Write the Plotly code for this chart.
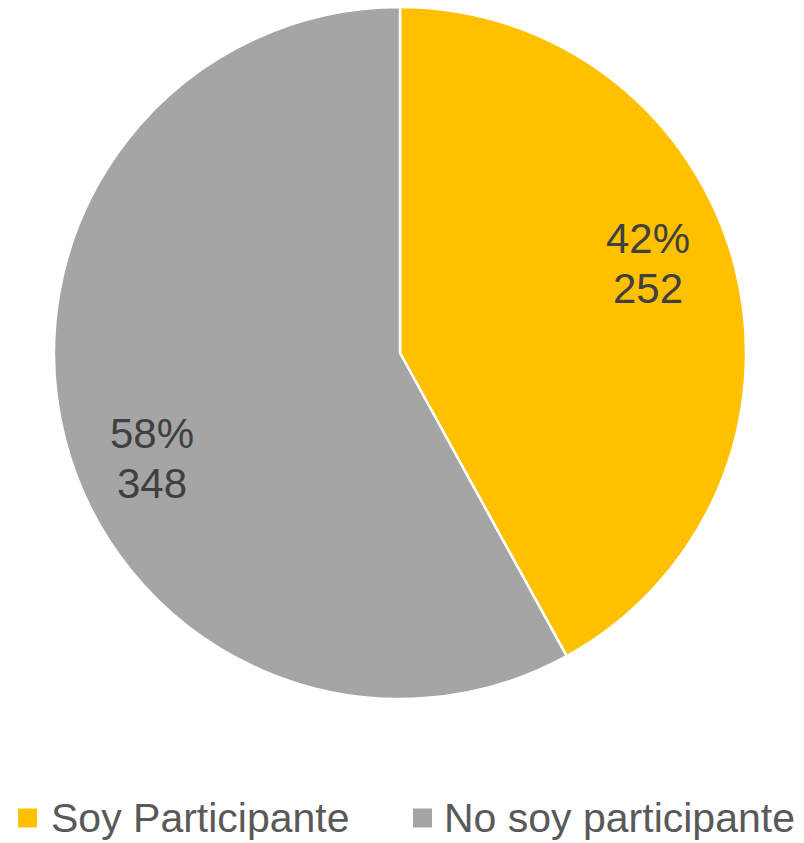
import math
import plotly.graph_objects as go

labels = ["Soy Participante", "No soy participante"]
values = [252, 348]
colors = ["#FFC000", "#A5A5A5"]

W, H = 804, 843
# pie domain (pixels)
px0, px1, py0, py1 = 54, 746, 7, 699
cx, cy = (px0 + px1) / 2, (py0 + py1) / 2
R = min(px1 - px0, py1 - py0) / 2

fig = go.Figure(go.Pie(
    labels=labels,
    values=values,
    marker=dict(colors=colors, line=dict(color="white", width=2.5)),
    sort=False,
    direction="clockwise",
    rotation=0,
    textinfo="none",
    hoverinfo="label+value+percent",
    domain=dict(x=[px0 / W, px1 / W], y=[1 - py1 / H, 1 - py0 / H]),
    showlegend=False,
))

# data labels placed from the slice angles
total = sum(values)
cum = 0
annotations = []
lab_font = dict(size=42, color="#404040", family="Liberation Sans, Arial, sans-serif")
for v in values:
    theta = 2 * math.pi * (cum + v / 2) / total - math.radians(7)
    cum += v
    r = 0.77 * R
    x = cx + r * math.sin(theta)
    y = cy - r * math.cos(theta) + 8
    for txt, shift in ((f"{round(100 * v / total)}%", 25), (f"{v}", -25)):
        annotations.append(dict(
            x=x / W, y=1 - y / H, xref="paper", yref="paper",
            xanchor="center", yanchor="middle", yshift=shift,
            text=txt, showarrow=False, align="center", font=lab_font,
        ))

# legend
shapes = []
leg_y = 818
leg_items = [(18, 52), (413, 445)]
for (mx, tx), lab, col in zip(leg_items, labels, colors):
    shapes.append(dict(type="rect", xref="paper", yref="paper",
                       x0=mx / W, x1=(mx + 19) / W,
                       y0=1 - (leg_y + 9.5) / H, y1=1 - (leg_y - 9.5) / H,
                       fillcolor=col, line=dict(width=0)))
    annotations.append(dict(
        x=(tx - 2) / W, y=1 - leg_y / H, xref="paper", yref="paper",
        xanchor="left", yanchor="middle", text=lab, showarrow=False,
        borderpad=0,
        font=dict(size=41, color="#595959", family="Liberation Sans, Arial, sans-serif"),
    ))

fig.update_layout(
    width=W, height=H,
    margin=dict(l=0, r=0, t=0, b=0),
    paper_bgcolor="white",
    plot_bgcolor="white",
    annotations=annotations,
    shapes=shapes,
)

fig.write_html(
    "out.html",
    config={"displayModeBar": False},
    post_script="document.body.style.margin='0';document.body.style.overflow='hidden';",
)
